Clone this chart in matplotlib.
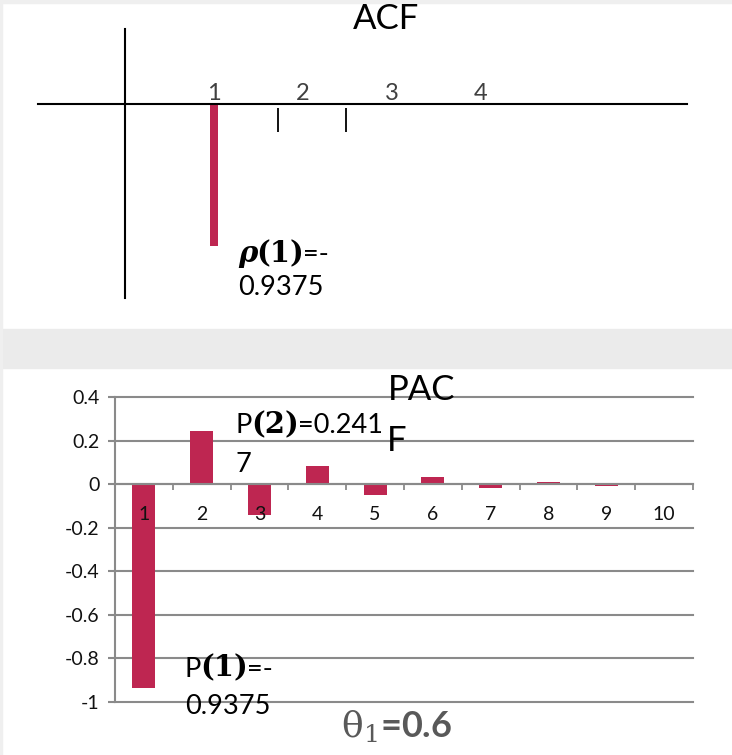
import matplotlib
matplotlib.use('Agg')
import matplotlib.pyplot as plt
import matplotlib.transforms as mtransforms
from matplotlib.patches import Rectangle

# ---------------- data ----------------
acf_lags = [1]
acf_values = [-0.9375]
acf_tick_pos = [1, 2, 3, 4]
acf_tick_labels = ['1', '2', '3', '4']
acf_marks = [1.72, 2.48]          # stray tick marks under the ACF axis

pacf_lags = [1, 2, 3, 4, 5, 6, 7, 8, 9, 10]
pacf_values = [-0.9375, 0.2417, -0.14, 0.082, -0.052, 0.031, -0.017, 0.011, -0.009, 0.002]
pacf_yticks = [0.4, 0.2, 0, -0.2, -0.4, -0.6, -0.8, -1]
pacf_ytick_labels = ['0.4', '0.2', '0', '-0.2', '-0.4', '-0.6', '-0.8', '-1']

# ---------------- style ----------------
plt.rcParams['font.family'] = ['Lato', 'DejaVu Sans']
plt.rcParams['mathtext.fontset'] = 'dejavuserif'
bar_color = '#BE2651'
grid_color = '#8A8A8A'

W, H = 732, 755
fig = plt.figure(figsize=(W / 100, H / 100), dpi=100)
fig.patch.set_facecolor('white')
renderer = fig.canvas.get_renderer()

def fx(px):
    return px / W

def fy(py):
    return 1 - py / H

SANS = dict(fontsize=19.5, color='black')
SERIF_B = dict(fontsize=21, color='black', family='DejaVu Serif', fontweight='bold')
SERIF_BI = dict(fontsize=21, color='black', family='DejaVu Serif', fontweight='bold',
                fontstyle='italic')

def text_pieces(ax, x, y, pieces):
    offset = 0.0
    for s, kw in pieces:
        tr = mtransforms.offset_copy(ax.transData, fig=fig, x=offset, y=0, units='dots')
        t = ax.text(x, y, s, transform=tr, va='baseline', ha='left', **kw)
        bb = t.get_window_extent(renderer=renderer)
        offset += bb.width - 1

# gray separator band and thin borders
fig.add_artist(Rectangle((0, fy(368)), 1, (368 - 329) / H, transform=fig.transFigure,
                         color='#EBEBEB', zorder=0))
fig.add_artist(Rectangle((0, fy(3)), 1, 3 / H, transform=fig.transFigure,
                         color='#EFEFEF', zorder=0))
fig.add_artist(Rectangle((0, 0), 2 / W, 1, transform=fig.transFigure,
                         color='#EFEFEF', zorder=0))

# ---------------- ACF panel ----------------
ax1 = fig.add_axes([fx(38), fy(298), (687 - 38) / W, (298 - 29) / H])
ax1.set_xlim(-0.978, 6.315)
ax1.set_ylim(-1.285, 0.497)
ax1.patch.set_alpha(0)
ax1.spines['right'].set_visible(False)
ax1.spines['left'].set_position(('data', 0))
ax1.spines['bottom'].set_position(('data', 0))
ax1.spines['top'].set_position(('data', 0))
ax1.spines['top'].set_visible(False)
for s in ['left', 'bottom']:
    ax1.spines[s].set_color('black')
    ax1.spines[s].set_linewidth(1.5)
ax1.bar(acf_lags, acf_values, width=0.1, color=bar_color, zorder=1)
ax1.set_xticks(acf_tick_pos, labels=acf_tick_labels)
ax1.tick_params(axis='x', which='both', bottom=False, labelbottom=False, top=False,
                labeltop=True, length=0, pad=0, labelsize=17, labelcolor='#404040')
ax1.set_yticks([])
ax1.vlines(acf_marks, -0.185, -0.026, color='black', lw=1.3)
text_pieces(ax1, 1.27, -1.046, [('ρ', SERIF_BI), ('(1)', SERIF_B), ('=-', SANS)])
ax1.text(1.27, -1.265, '0.9375', va='baseline', **SANS)
fig.text(fx(386), fy(29), 'ACF', ha='center', va='baseline', fontsize=25, color='black')

# ---------------- PACF panel ----------------
ax2 = fig.add_axes([fx(115), fy(702), 578 / W, 305 / H])
ax2.set_xlim(0.5, 10.5)
ax2.set_ylim(-1, 0.4)
ax2.patch.set_alpha(0)
for y in pacf_yticks:
    ax2.axhline(y, color=grid_color, lw=1.5, zorder=0.5, clip_on=False)
ax2.bar(pacf_lags, pacf_values, width=0.4, color=bar_color, zorder=1)
ax2.set_axisbelow(False)
ax2.spines['top'].set_visible(False)
ax2.spines['right'].set_visible(False)
ax2.spines['bottom'].set_position(('data', 0))
for s in ['left', 'bottom']:
    ax2.spines[s].set_color(grid_color)
    ax2.spines[s].set_linewidth(1.5)
ax2.set_yticks(pacf_yticks, labels=pacf_ytick_labels)
ax2.tick_params(axis='y', direction='out', length=5, width=1.5, color=grid_color,
                pad=6, labelsize=14, labelcolor='#111111')
boundaries = [l - 0.5 for l in pacf_lags] + [pacf_lags[-1] + 0.5]
ax2.set_xticks(boundaries)
ax2.set_xticks(pacf_lags, labels=[str(l) for l in pacf_lags], minor=True)
ax2.tick_params(axis='x', which='major', direction='out', length=4.5, width=1.3,
                color=grid_color, labelbottom=False)
ax2.tick_params(axis='x', which='minor', length=0, pad=16, labelsize=14,
                labelcolor='#111111')

text_pieces(ax2, 2.593, 0.2345, [('P', SANS), ('(2)', SERIF_B), ('=0.241', SANS)])
ax2.text(2.593, 0.055, '7', va='baseline', **SANS)
text_pieces(ax2, 1.711, -0.883, [('P', SANS), ('(1)', SERIF_B), ('=-', SANS)])
ax2.text(1.711, -1.053, '0.9375', va='baseline', **SANS)
ax2.text(5.223, 0.386, 'PAC', va='baseline', fontsize=25, color='black')
ax2.text(5.205, 0.152, 'F', va='baseline', fontsize=25, color='black')

fig.text(fx(397), fy(727), r'$\mathrm{\theta}_\mathrm{1}$=0.6', ha='center', va='center',
         fontsize=26, color='#595959', fontweight='bold')

fig.savefig('out.png', dpi=100, facecolor='white')
